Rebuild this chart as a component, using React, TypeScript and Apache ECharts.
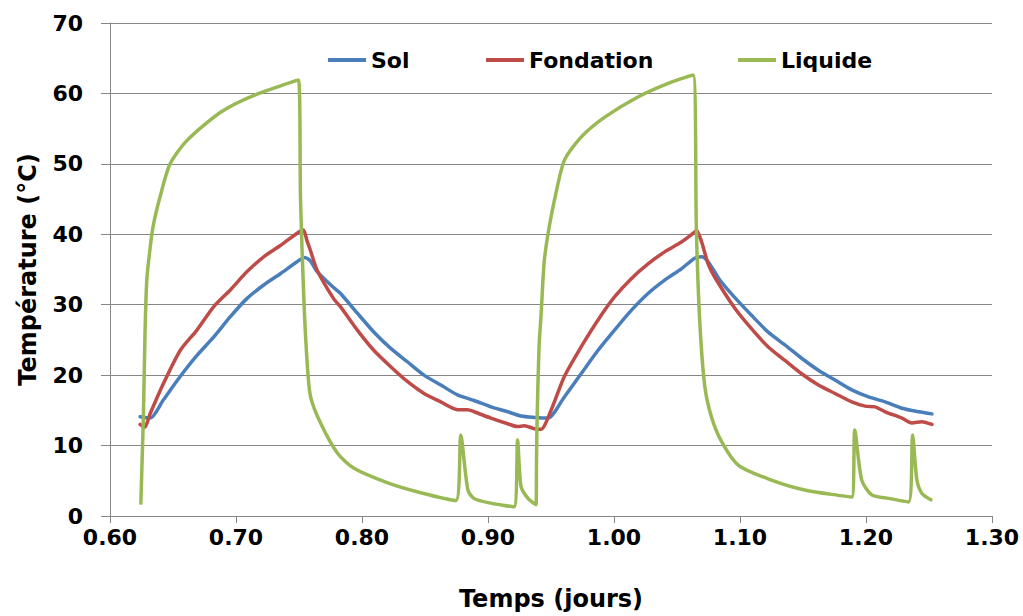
import React, { useEffect, useRef } from "react";
import * as echarts from "echarts";

const xTicks = { min: 0.6, max: 1.3, step: 0.1 };
const yTicks = { min: 0, max: 70, step: 10 };

const solPts: [number, number][] = [
  [0.6239, 14.1], [0.6318, 13.9], [0.6424, 16.5], [0.6557, 19.8], [0.669, 22.8], [0.6822, 25.4],
  [0.6955, 28.3], [0.7088, 30.9], [0.722, 32.8], [0.7352, 34.4], [0.7485, 36.1], [0.7545, 36.7],
  [0.7591, 36.2], [0.7644, 34.7], [0.7777, 32.4], [0.783, 31.6], [0.7963, 28.8], [0.8095, 26.1],
  [0.8228, 23.8], [0.836, 21.9], [0.8492, 20.0], [0.8625, 18.6], [0.8758, 17.2], [0.889, 16.4],
  [0.9023, 15.5], [0.9156, 14.8], [0.9262, 14.2], [0.9368, 14.0], [0.9474, 13.9], [0.9606, 16.9],
  [0.9739, 20.2], [0.9872, 23.5], [1.0004, 26.4], [1.0137, 29.2], [1.027, 31.6], [1.0402, 33.5],
  [1.0535, 35.1], [1.064, 36.6], [1.0694, 36.8], [1.0747, 36.1], [1.084, 33.5], [1.0959, 31.0],
  [1.1091, 28.5], [1.1224, 26.1], [1.1356, 24.3], [1.1489, 22.4], [1.1622, 20.7], [1.1754, 19.3],
  [1.1887, 17.9], [1.202, 16.9], [1.2152, 16.2], [1.2285, 15.3], [1.2418, 14.8], [1.2523, 14.5],
];

const fondationPts: [number, number][] = [
  [0.6239, 13.0], [0.6275, 12.6], [0.6318, 14.5], [0.6424, 18.8], [0.6557, 23.5], [0.669, 26.4],
  [0.6822, 29.7], [0.6955, 32.1], [0.7088, 34.7], [0.722, 36.8], [0.7352, 38.4], [0.7505, 40.4],
  [0.7535, 40.6], [0.7565, 39.0], [0.7591, 37.7], [0.7644, 34.9], [0.7777, 30.8], [0.783, 29.7],
  [0.7963, 26.4], [0.8095, 23.5], [0.8228, 21.2], [0.836, 19.1], [0.8492, 17.4], [0.8625, 16.2],
  [0.8758, 15.1], [0.8838, 15.1], [0.889, 14.8], [0.9023, 13.9], [0.9156, 13.1], [0.9235, 12.7],
  [0.9288, 12.8], [0.9368, 12.4], [0.942, 12.3], [0.95, 15.0], [0.9606, 19.8], [0.9739, 24.0],
  [0.9872, 27.8], [1.0004, 31.1], [1.0137, 33.7], [1.027, 35.8], [1.0402, 37.5], [1.0535, 38.9],
  [1.064, 40.3], [1.0654, 40.6], [1.0694, 39.0], [1.0747, 35.8], [1.08, 33.9], [1.0959, 29.5],
  [1.1091, 26.6], [1.1224, 24.0], [1.1356, 22.1], [1.1489, 20.2], [1.1622, 18.6], [1.1754, 17.4],
  [1.1887, 16.2], [1.1993, 15.6], [1.2073, 15.5], [1.2152, 14.8], [1.2285, 13.9], [1.2364, 13.2],
  [1.2444, 13.4], [1.2523, 13.0],
];

const liquidePts: [number, number][] = [
  [0.6245, 1.8], [0.6255, 8], [0.6265, 14], [0.6278, 26], [0.6292, 33.5], [0.6318, 38],
  [0.6344, 41.3], [0.64, 45.5], [0.6477, 50], [0.661, 53.3], [0.6875, 57.3], [0.7138, 59.7],
  [0.7496, 61.9], [0.7512, 45], [0.7538, 31], [0.7565, 21.7], [0.7591, 17], [0.7671, 13.2],
  [0.7806, 8.9], [0.7933, 6.8], [0.8204, 4.7], [0.8466, 3.3], [0.8745, 2.2], [0.8784, 11.5],
  [0.884, 3.7], [0.8888, 2.5], [0.9, 1.9], [0.9206, 1.3], [0.9235, 10.8], [0.9262, 4.2],
  [0.9317, 2.5], [0.9381, 1.6], [0.9385, 8], [0.939, 14], [0.9405, 24], [0.9421, 28.5],
  [0.9445, 35.9], [0.9474, 39.8], [0.9527, 44.8], [0.9606, 50.5], [0.9739, 53.8], [0.9924, 56.6],
  [1.019, 59.5], [1.0455, 61.6], [1.0628, 62.6], [1.0654, 40.5], [1.068, 27.8], [1.072, 18.5],
  [1.0773, 14.1], [1.0853, 10.6], [1.0988, 7.2], [1.125, 5.1], [1.1513, 3.7], [1.1887, 2.7],
  [1.1911, 12.2], [1.1966, 5.1], [1.2046, 3.0], [1.2179, 2.5], [1.2338, 2.0], [1.237, 11.5],
  [1.2404, 5.1], [1.2444, 3.2], [1.2515, 2.3],
];

const seriesNames = ["Sol", "Fondation", "Liquide"];
const seriesColors = ["#4A7EBB", "#BE4B48", "#98B954"];
const legendLefts = [323, 481, 733];

const FONT = "DejaVu Sans";

export default function App() {
  const ref = useRef<HTMLDivElement>(null);
  useEffect(() => {
    if (!ref.current) return;
    const chart = echarts.init(ref.current, null, { renderer: "svg" });
    const data = [solPts, fondationPts, liquidePts];
    chart.setOption({
      animation: false,
      backgroundColor: "#ffffff",
      grid: { left: 110, right: 31, top: 23, bottom: 100 },
      legend: seriesNames.map((n, i) => ({
        data: [n],
        left: legendLefts[i],
        top: 44,
        icon: "rect",
        itemWidth: 38,
        itemHeight: 4,
        textStyle: { fontFamily: FONT, fontWeight: "bold", fontSize: 22, color: "#000" },
      })),
      xAxis: {
        type: "value",
        min: xTicks.min,
        max: xTicks.max,
        interval: xTicks.step,
        name: "Temps (jours)",
        nameLocation: "middle",
        nameGap: 71,
        nameTextStyle: { fontFamily: FONT, fontWeight: "bold", fontSize: 24, color: "#000" },
        axisLine: { lineStyle: { color: "#868686", width: 1 } },
        axisTick: { show: true, length: 7, lineStyle: { color: "#868686" } },
        axisLabel: {
          margin: 10,
          formatter: (v: number) => v.toFixed(2),
          fontFamily: FONT,
          fontWeight: "bold",
          fontSize: 22,
          color: "#000",
        },
        splitLine: { show: false },
      },
      yAxis: {
        type: "value",
        min: yTicks.min,
        max: yTicks.max,
        interval: yTicks.step,
        name: "Température (°C)",
        nameLocation: "middle",
        nameRotate: 90,
        nameGap: 70,
        nameTextStyle: { fontFamily: FONT, fontWeight: "bold", fontSize: 24, color: "#000" },
        axisLine: { show: true, lineStyle: { color: "#868686", width: 1 } },
        axisTick: { show: true, length: 9, lineStyle: { color: "#868686" } },
        axisLabel: {
          margin: 27,
          fontFamily: FONT,
          fontWeight: "bold",
          fontSize: 22,
          color: "#000",
        },
        splitLine: { show: true, lineStyle: { color: "#868686", width: 1 } },
      },
      series: seriesNames.map((n, i) => ({
        name: n,
        type: "line",
        data: data[i],
        symbol: "none",
        showSymbol: false,
        smooth: 0.25,
        color: seriesColors[i],
        itemStyle: { color: seriesColors[i] },
        lineStyle: { color: seriesColors[i], width: 3.5, join: "round", cap: "round" },
        z: i === 2 ? 3 : 2,
      })),
    });
    return () => chart.dispose();
  }, []);
  return <div ref={ref} style={{ width: 1023, height: 616, position: "absolute", left: 0, top: 0 }} />;
}
